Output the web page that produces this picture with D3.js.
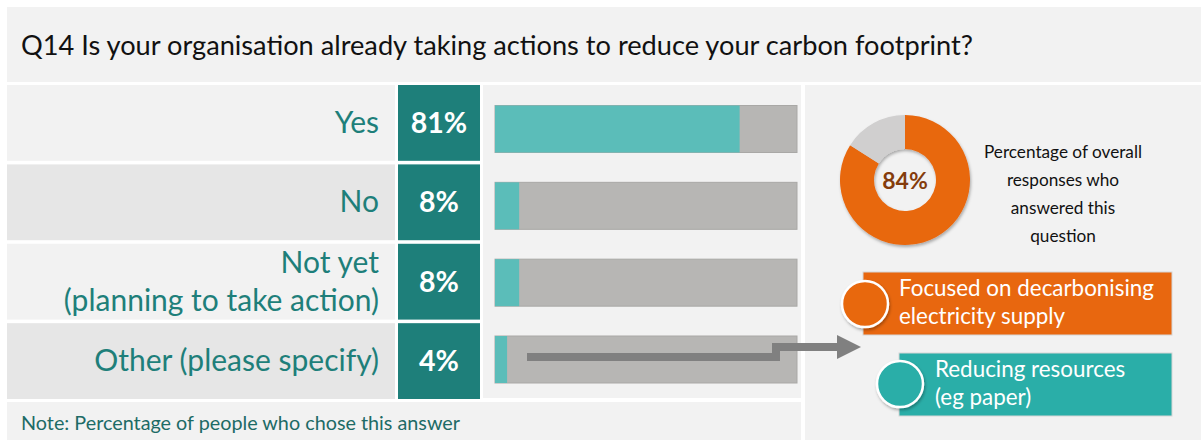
<!DOCTYPE html>
<html>
<head>
<meta charset="utf-8">
<script src="https://cdn.jsdelivr.net/npm/d3@7"></script>
<style>
  body { margin: 0; background: #fff; }
  svg { display: block; font-family: Lato, "Noto Sans", sans-serif; }
</style>
</head>
<body>
<script>
// Question data
let title = "Q14 Is your organisation already taking actions to reduce your carbon footprint?";
let categories = ["Yes", "No", "Not yet\n(planning to take action)", "Other (please specify)"];
let values = [81, 8, 8, 4];
let responseRate = [84, 16];
let responseText = ["Percentage of overall", "responses who", "answered this", "question"];
let themes = ["Focused on decarbonising\nelectricity supply", "Reducing resources\n(eg paper)"];
let note = "Note: Percentage of people who chose this answer";

let W = 1201, H = 440;
let teal = "#1e7f7a", barTeal = "#5bbdb9", barGray = "#b7b6b4", panel = "#f2f2f2";

let svg = d3.select("body").append("svg")
    .attr("width", W)
    .attr("height", H);

// title panel
svg.append("rect").attr("x", 7).attr("y", 7).attr("width", W - 7).attr("height", 75).attr("fill", panel);
svg.append("text")
    .attr("x", 21).attr("y", 55)
    .attr("font-size", 27.2)
    .attr("fill", "#111")
    .text(title);

// row scale (table cells) and bar scale (bars sit on their own spacing)
let y = d3.scaleBand().domain(categories).range([85, 399]).paddingInner(0.045);
let yBar = d3.scalePoint().domain(categories).range([129, 359.5]);
let x = d3.scaleLinear().domain([0, 100]).range([495, 797]);

// bar column background
svg.append("rect").attr("x", 483).attr("y", 85).attr("width", 318).attr("height", 313).attr("fill", panel);

let rows = svg.selectAll(".row")
    .data(categories)
    .enter().append("g")
    .attr("class", "row");

rows.append("rect")
    .attr("x", 7).attr("y", d => y(d))
    .attr("width", 388).attr("height", y.bandwidth())
    .attr("fill", (d, i) => i % 2 ? "#e6e6e6" : panel);

rows.append("rect")
    .attr("x", 398).attr("y", d => y(d))
    .attr("width", 82).attr("height", y.bandwidth())
    .attr("fill", teal);

// labels
rows.append("text")
    .attr("text-anchor", "end")
    .attr("font-size", 30)
    .attr("fill", teal)
    .each(function(d) {
        let lines = d.split("\n");
        let cy = y(d) + y.bandwidth() / 2 + 10 - (lines.length - 1) * 19;
        lines.forEach((l, j) => {
            d3.select(this).append("tspan").attr("x", 379).attr("y", cy + j * 38).text(l);
        });
    });

rows.append("text")
    .attr("x", 439)
    .attr("y", d => y(d) + y.bandwidth() / 2 + 10)
    .attr("text-anchor", "middle")
    .attr("font-size", 28.5)
    .attr("font-weight", "bold")
    .attr("fill", "#fff")
    .text((d, i) => values[i] + "%");

// bars
let barH = 47;
rows.append("rect")
    .attr("x", x(0)).attr("y", d => yBar(d) - barH / 2)
    .attr("width", x(100) - x(0)).attr("height", barH)
    .attr("fill", barGray)
    .attr("stroke", "#a9a8a6").attr("stroke-width", 1);

rows.append("rect")
    .attr("x", x(0)).attr("y", d => yBar(d) - barH / 2)
    .attr("width", (d, i) => x(values[i]) - x(0)).attr("height", barH)
    .attr("fill", barTeal);

// note panel
svg.append("rect").attr("x", 7).attr("y", 402).attr("width", 794).attr("height", 38).attr("fill", panel);
svg.append("text")
    .attr("x", 21).attr("y", 430)
    .attr("font-size", 19.8)
    .attr("fill", "#1d6b66")
    .text(note);

// right panel
svg.append("rect").attr("x", 805).attr("y", 85).attr("width", W - 805).attr("height", H - 85).attr("fill", panel);

let defs = svg.append("defs");
let f = defs.append("filter").attr("id", "shadow").attr("x", "-20%").attr("y", "-20%").attr("width", "140%").attr("height", "140%");
f.append("feDropShadow").attr("dx", 1).attr("dy", 2).attr("stdDeviation", 1.5).attr("flood-opacity", 0.3);

// donut
let pie = d3.pie().sort(null);
let arc = d3.arc().innerRadius(31).outerRadius(65);
let donut = svg.append("g").attr("transform", "translate(905,180)").attr("filter", "url(#shadow)");
donut.selectAll("path")
    .data(pie(responseRate))
    .enter().append("path")
    .attr("d", arc)
    .attr("fill", (d, i) => i === 0 ? "#e8670f" : "#d0cfcf");
svg.append("text")
    .attr("x", 905).attr("y", 189)
    .attr("text-anchor", "middle")
    .attr("font-size", 23)
    .attr("font-weight", "bold")
    .attr("fill", "#843c0c")
    .text(responseRate[0] + "%");

svg.append("text")
    .attr("text-anchor", "middle")
    .attr("font-size", 17.2)
    .attr("fill", "#111")
    .selectAll("tspan")
    .data(responseText)
    .enter().append("tspan")
    .attr("x", 1063)
    .attr("y", (d, i) => 158 + i * 28)
    .text(d => d);

// arrow from "Other" bar to themes
svg.append("path")
    .attr("d", "M527,357 H776 V347 H840")
    .attr("fill", "none")
    .attr("stroke", "#808080")
    .attr("stroke-width", 8);
svg.append("path")
    .attr("d", "M837,335 L861,347 L837,359 Z")
    .attr("fill", "#808080");

// theme boxes
let boxes = [
    { x: 863, y: 272, cx: 865, cy: 304, color: "#e8670f" },
    { x: 899, y: 353, cx: 900, cy: 384, color: "#2aaea8" }
];
let theme = svg.selectAll(".theme")
    .data(themes)
    .enter().append("g")
    .attr("class", "theme");

theme.append("rect")
    .attr("x", (d, i) => boxes[i].x).attr("y", (d, i) => boxes[i].y)
    .attr("width", (d, i) => 1172 - boxes[i].x).attr("height", 63)
    .attr("fill", (d, i) => boxes[i].color)
    .attr("stroke", "#d6d6d6").attr("stroke-width", 1);

theme.append("circle")
    .attr("cx", (d, i) => boxes[i].cx).attr("cy", (d, i) => boxes[i].cy)
    .attr("r", 23)
    .attr("fill", (d, i) => boxes[i].color)
    .attr("stroke", "#fff").attr("stroke-width", 2.5)
    .attr("filter", "url(#shadow)");

theme.append("text")
    .attr("font-size", 22.4)
    .attr("fill", "#fff")
    .each(function(d, i) {
        d.split("\n").forEach((l, j) => {
            d3.select(this).append("tspan")
                .attr("x", boxes[i].x + 36)
                .attr("y", boxes[i].y + 24 + j * 28)
                .text(l);
        });
    });
</script>
</body>
</html>
